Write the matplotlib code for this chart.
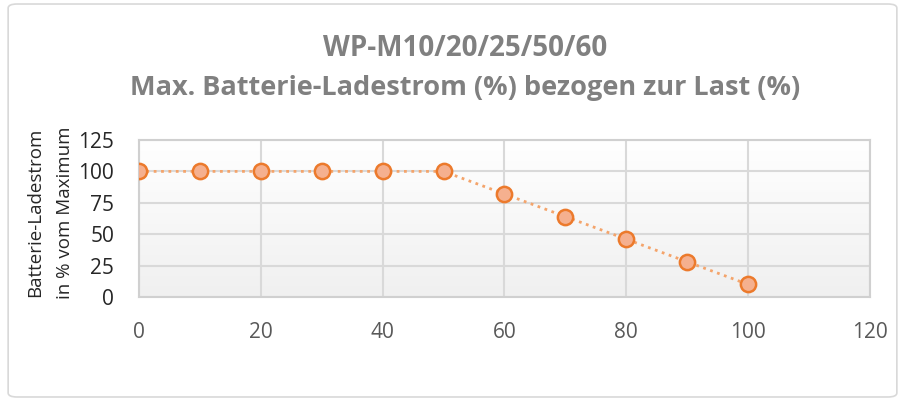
import numpy as np
import matplotlib.pyplot as plt
from matplotlib.patches import FancyBboxPatch
from matplotlib.colors import LinearSegmentedColormap

# data
last = [0, 10, 20, 30, 40, 50, 60, 70, 80, 90, 100]
ladestrom = [100, 100, 100, 100, 100, 100, 82, 64, 46, 28, 10]
x_ticks = [0, 20, 40, 60, 80, 100, 120]
y_ticks = [0, 25, 50, 75, 100, 125]

plt.rcParams['font.family'] = ['Open Sans', 'DejaVu Sans']

fig = plt.figure(figsize=(9.05, 4.01), dpi=100)
fig.patch.set_facecolor('white')

# outer chart border
border = FancyBboxPatch((0.009, 0.01), 0.982, 0.98, boxstyle='round,pad=0,rounding_size=0.01',
                        transform=fig.transFigure, fill=False, edgecolor='#d9d9d9', linewidth=1.2)
fig.patches.append(border)

ax = fig.add_axes([0.1536, 0.2594, 0.8077, 0.3915])

# plot area gradient background
grad = np.linspace(1, 0, 256).reshape(-1, 1)
cmap = LinearSegmentedColormap.from_list('g', ['#f0f0f0', '#ffffff'])
ax.imshow(grad, extent=[0, 120, 0, 125], aspect='auto', cmap=cmap, zorder=0, origin='upper')

ax.plot(last, ladestrom, linestyle=':', color='#f4a46b', linewidth=2.0, zorder=3)
ax.plot(last, ladestrom, linestyle='none', marker='o', markersize=11,
        markerfacecolor='#f5b08f', markeredgecolor='#ec7a2c', markeredgewidth=1.8, zorder=4)

ax.set_xlim(0, 120)
ax.set_ylim(0, 125)
ax.set_xticks(x_ticks)
ax.set_yticks(y_ticks)
ax.grid(True, color='#d9d9d9', linewidth=1.5, zorder=1)
ax.set_axisbelow(True)
for s in ax.spines.values():
    s.set_color('#d0d0d0')
    s.set_linewidth(1.5)
ax.tick_params(axis='x', length=0, pad=18, labelsize=15, labelcolor='#595959')
ax.tick_params(axis='y', length=0, pad=18, labelsize=15, labelcolor='#262626')

# y axis title, two lines
fig.text(0.039, 0.47, 'Batterie-Ladestrom', rotation=90, ha='center', va='center',
         fontsize=13.5, color='#262626')
fig.text(0.072, 0.47, 'in % vom Maximum', rotation=90, ha='center', va='center',
         fontsize=13.5, color='#262626')

fig.text(0.514, 0.88, 'WP-M10/20/25/50/60', ha='center', va='center',
         fontsize=20, fontweight='bold', color='#808080')
fig.text(0.514, 0.78, 'Max. Batterie-Ladestrom (%) bezogen zur Last (%)', ha='center', va='center',
         fontsize=19.5, fontweight='bold', color='#808080')

plt.savefig('out.png', dpi=100)
